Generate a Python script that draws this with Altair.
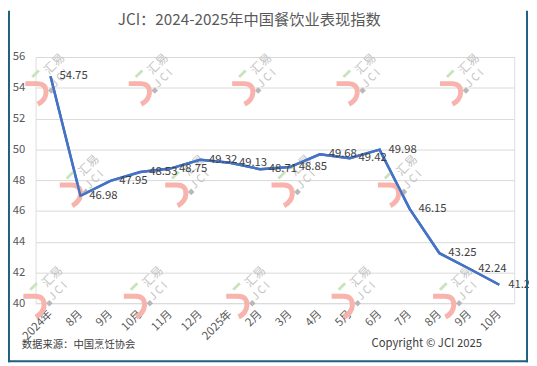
import altair as alt
import pandas as pd

# ---- data ----
categories = ["2024年", "8月", "9月", "10月", "11月", "12月", "2025年", "2月",
              "3月", "4月", "5月", "6月", "7月", "8月", "9月", "10月"]
values = [54.75, 46.98, 47.95, 48.53, 48.75, 49.32, 49.13, 48.71,
          48.85, 49.68, 49.42, 49.98, 46.15, 43.25, 42.24, 41.2]
y_ticks = [40, 42, 44, 46, 48, 50, 52, 54, 56]

title_text = "JCI：2024-2025年中国餐饮业表现指数"
source_text = "数据来源：中国烹饪协会"
copyright_text = "Copyright © JCI 2025"

# watermark anchor positions (page pixels)
wm_px = [37, 142, 247, 353, 458, 72, 179, 287, 395, 35, 137, 241, 348, 451]
wm_py = [91, 91, 91, 91, 91, 194, 194, 194, 194, 307, 307, 307, 307, 307]

FONT = "Noto Sans CJK SC"
PLOT_LEFT, PLOT_TOP = 36, 55  # page position of plot origin

df = pd.DataFrame({"i": list(range(len(values))), "v": values,
                   "lab": [f"{v:g}" for v in values]})
wm = pd.DataFrame({"px": [p - PLOT_LEFT for p in wm_px],
                   "py": [p - PLOT_TOP for p in wm_py]})

label_expr = "[" + ",".join(f"'{c}'" for c in categories) + "][datum.value]"

x_axis = alt.Axis(values=list(range(len(values))), labelExpr=label_expr, title=None,
                  labelAngle=-45, labelAlign="right", labelBaseline="middle",
                  labelPadding=9, labelFontSize=11.5, labelColor="#595959",
                  labelFont=FONT, domain=False, ticks=False, grid=False,
                  labelOverlap=False)
y_axis = alt.Axis(values=y_ticks, title=None, domain=False, ticks=False,
                  grid=True, gridColor="#d9d9d9", gridWidth=1,
                  labelFontSize=11.5, labelColor="#595959", labelFont=FONT,
                  labelPadding=11, labelOverlap=False)
x_scale = alt.Scale(domain=[-0.5, len(values) - 0.5], nice=False, zero=False)
y_scale = alt.Scale(domain=[40, 56], nice=False, zero=False)
x_enc = alt.X("i:Q", scale=x_scale, axis=x_axis)
y_enc = alt.Y("v:Q", scale=y_scale, axis=y_axis)

base = alt.Chart(df)

line = base.mark_line(color="#4472C4", strokeWidth=2.5).encode(x=x_enc, y=y_enc)
labels = base.mark_text(align="left", baseline="middle", dx=9, fontSize=11.5,
                        color="#404040", font=FONT).encode(
    x=x_enc, y=y_enc, text="lab:N")

# ---- watermarks ----
wmb = alt.Chart(wm)
pink = wmb.mark_point(
    shape="M -0.95 -0.75 L 0.05 -0.75 Q 0.85 -0.75 0.8 0.05 Q 0.75 0.65 0.1 1",
    size=576, filled=False, stroke="#f7b3ac", strokeWidth=5, opacity=1
).encode(x=alt.X("px:Q", scale=None, axis=None), y=alt.Y("py:Q", scale=None, axis=None))
green = wmb.transform_calculate(gx="datum.px - 1", gy="datum.py - 19").mark_point(
    shape="M -1 -0.3 L 1 -0.3 L 1 0.3 L -1 0.3 Z", size=90, filled=True,
    fill="#c9e3bd", strokeWidth=0, angle=315, opacity=1
).encode(x=alt.X("gx:Q", scale=None, axis=None), y=alt.Y("gy:Q", scale=None, axis=None))
gray = wmb.transform_calculate(dx_="datum.px + 15", dy_="datum.py - 2").mark_point(
    shape="diamond", size=45, filled=True, fill="#b8b8b8", strokeWidth=0, opacity=1
).encode(x=alt.X("dx_:Q", scale=None, axis=None), y=alt.Y("dy_:Q", scale=None, axis=None))
hy = wmb.transform_calculate(tx="datum.px + 18", ty="datum.py - 29", t="'汇易'").mark_text(
    angle=315, fontSize=12, color="#c4c4c4", font=FONT, align="center", baseline="middle"
).encode(x=alt.X("tx:Q", scale=None, axis=None), y=alt.Y("ty:Q", scale=None, axis=None), text="t:N")
jci = wmb.transform_calculate(tx="datum.px + 24", ty="datum.py - 14", t="'J C I'").mark_text(
    angle=315, fontSize=11, color="#c4c4c4", font=FONT, align="center", baseline="middle"
).encode(x=alt.X("tx:Q", scale=None, axis=None), y=alt.Y("ty:Q", scale=None, axis=None), text="t:N")

# ---- texts and frame ----
tdf = pd.DataFrame({"a": [0]})
tb = alt.Chart(tdf)
title = tb.mark_text(text=title_text, fontSize=15.5, color="#595959", font=FONT,
                     align="center", baseline="middle").encode(
    x=alt.value(253 - PLOT_LEFT), y=alt.value(18 - PLOT_TOP))
source = tb.mark_text(text=source_text, fontSize=10.5, color="#404040", font=FONT,
                      align="left", baseline="middle").encode(
    x=alt.value(22 - PLOT_LEFT), y=alt.value(347 - PLOT_TOP))
copy_ = tb.mark_text(text=copyright_text, fontSize=11.5, color="#404040", font=FONT,
                     align="left", baseline="middle").encode(
    x=alt.value(377 - PLOT_LEFT), y=alt.value(346 - PLOT_TOP))
frame_col = "#1f5f80"
f_left = tb.mark_rule(color=frame_col, strokeWidth=2).encode(
    x=alt.value(-27), y=alt.value(-47), y2=alt.value(310))
f_right = tb.mark_rule(color=frame_col, strokeWidth=2).encode(
    x=alt.value(499), y=alt.value(-47), y2=alt.value(310))
f_bottom = tb.mark_rule(color=frame_col, strokeWidth=2).encode(
    x=alt.value(-28), x2=alt.value(500), y=alt.value(309))

chart = alt.layer(
    line, pink, green, gray, hy, jci, line, labels, title, source, copy_,
    f_left, f_right, f_bottom
).properties(
    width=486, height=250,
    autosize=alt.AutoSizeParams(type="none"),
    padding={"left": 28, "top": 47, "right": 15, "bottom": 61},
).configure_view(stroke=None).configure(background="white")

chart.save("out.html", embed_options={"renderer": "svg", "actions": False})
